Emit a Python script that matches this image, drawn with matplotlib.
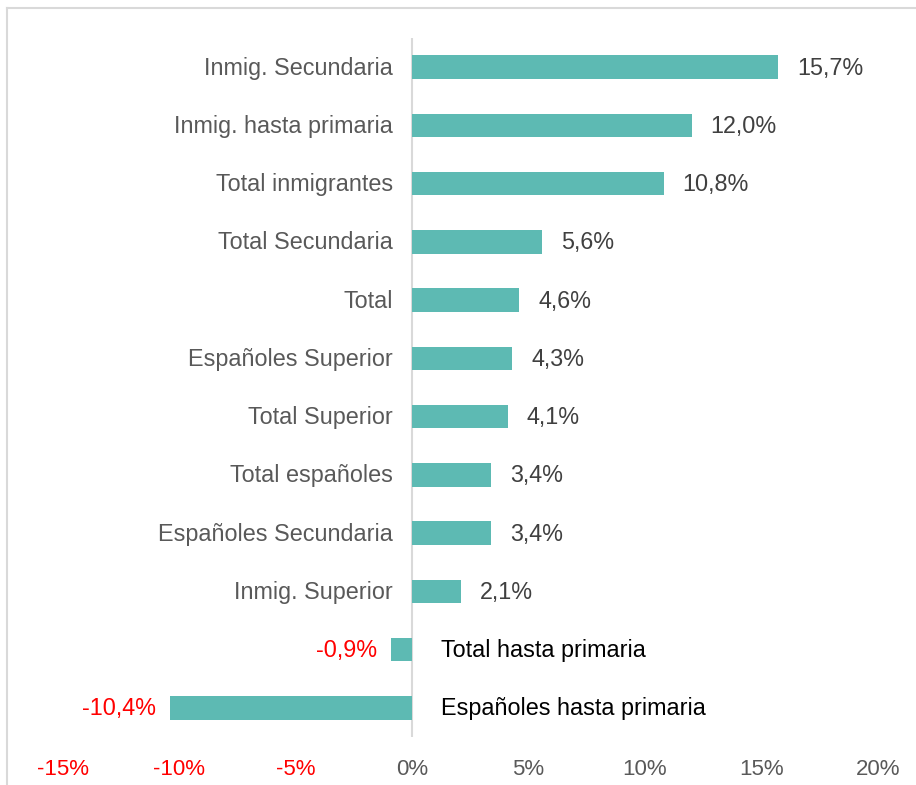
import matplotlib
matplotlib.use("Agg")
import matplotlib.pyplot as plt
from matplotlib.lines import Line2D

plt.rcParams['font.family'] = ['Liberation Sans', 'DejaVu Sans']

categories = ["Inmig. Secundaria", "Inmig. hasta primaria", "Total inmigrantes",
              "Total Secundaria", "Total", "Españoles Superior", "Total Superior",
              "Total españoles", "Españoles Secundaria", "Inmig. Superior",
              "Total hasta primaria", "Españoles hasta primaria"]
values = [15.7, 12.0, 10.8, 5.6, 4.6, 4.3, 4.1, 3.4, 3.4, 2.1, -0.9, -10.4]
xticks = [-15, -10, -5, 0, 5, 10, 15, 20]

W, H = 916, 785
fig = plt.figure(figsize=(W / 100, H / 100), dpi=100)
ax = fig.add_axes([62.5 / W, 1 - 737 / H, 815.5 / W, (737 - 38) / H])

bar_color = "#5DBAB3"
ypos = list(range(len(categories)))
ax.barh(ypos, values, height=0.4, color=bar_color, zorder=2)
ax.axvline(0, color="#D9D9D9", lw=1.5, zorder=1)

ax.set_xlim(-15, 20)
ax.set_ylim(len(categories) - 0.5, -0.5)
for s in ax.spines.values():
    s.set_visible(False)
ax.set_yticks([])
ax.set_xticks(xticks)
ax.set_xticklabels([f"{t}%" for t in xticks])
ax.tick_params(axis="x", length=0, pad=16, labelsize=16)
for lab, t in zip(ax.get_xticklabels(), xticks):
    lab.set_color("#FF0000" if t < 0 else "#595959")

fs = 16.8
for y, (cat, v) in enumerate(zip(categories, values)):
    if v >= 0:
        ax.annotate(cat, (0, y), xytext=(-19, -1), textcoords="offset pixels",
                    ha="right", va="center", fontsize=fs, color="#595959")
        ax.annotate(f"{v:.1f}%".replace(".", ","), (v, y), xytext=(19, -1),
                    textcoords="offset pixels", ha="left", va="center",
                    fontsize=fs, color="#404040")
    else:
        ax.annotate(cat, (0, y), xytext=(29, -1), textcoords="offset pixels",
                    ha="left", va="center", fontsize=fs, color="#000000")
        ax.annotate(f"{v:.1f}%".replace(".", ","), (v, y), xytext=(-14, -1),
                    textcoords="offset pixels", ha="right", va="center",
                    fontsize=fs, color="#FF0000")

# light frame (top and left edges visible)
fc = "#D9D9D9"
fig.add_artist(Line2D([7 / W, 7 / W], [0, 1 - 8 / H], color=fc, lw=1.5,
                      transform=fig.transFigure))
fig.add_artist(Line2D([7 / W, 1], [1 - 8 / H, 1 - 8 / H], color=fc, lw=1.5,
                      transform=fig.transFigure))

fig.savefig("out.png", dpi=100)
